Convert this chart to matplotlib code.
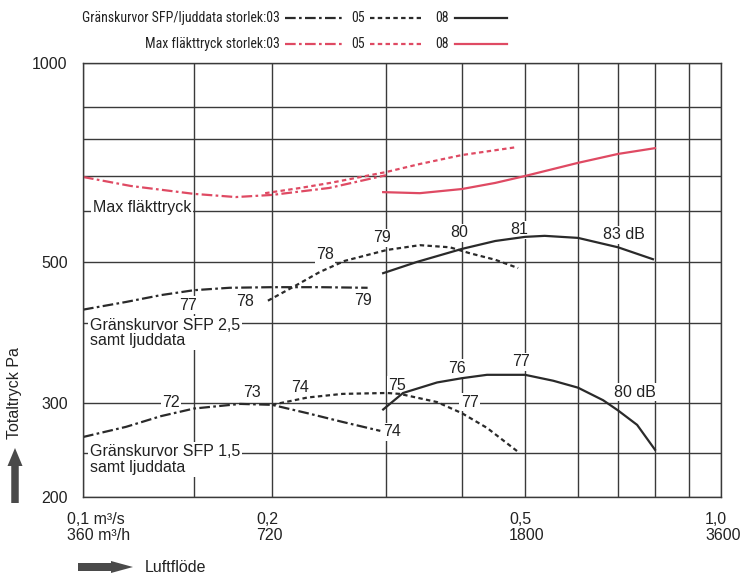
import numpy as np
import matplotlib
matplotlib.use('Agg')
import matplotlib.pyplot as plt
from matplotlib import font_manager
from matplotlib.font_manager import FontProperties
from matplotlib.lines import Line2D
from matplotlib.patches import FancyArrow
from matplotlib.ticker import FixedLocator, NullFormatter
import matplotlib.transforms as mtransforms

plt.rcParams['font.family'] = ['Liberation Sans', 'DejaVu Sans']

# legend in the original uses a narrow face; take one if the system has it
narrow = [f for f in font_manager.fontManager.ttflist
          if f.name in ('Liberation Sans Narrow', 'Roboto Condensed', 'Open Sans Condensed')
          and f.style == 'normal' and f.weight in (400, 'normal', 'regular')]
if narrow:
    leg_prop = FontProperties(fname=narrow[0].fname, size=10)
else:
    leg_prop = FontProperties(family='Liberation Sans', size=9)

# axis geometry as drawn in the original (value -> pixel offset)
x_grid = [0.1, 0.15, 0.2, 0.3, 0.4, 0.5, 0.6, 0.7, 0.8, 0.9, 1.0]
x_grid_px = [0, 111, 189, 303, 379, 442, 495, 535, 572, 606, 638]
y_grid = [200, 250, 300, 400, 500, 600, 700, 800, 900, 1000]
y_grid_px = [0, 44, 94, 174, 235, 286, 321, 358, 390, 434]

# Max fläkttryck (Pa) vs luftflöde (m3/s)
max03_x = [0.1, 0.119, 0.15, 0.175, 0.2, 0.245, 0.3]
max03_y = [697, 670, 647, 638, 644, 664, 702]
max05_x = [0.195, 0.221, 0.246, 0.3, 0.341, 0.4, 0.486]
max05_y = [649, 664, 679, 710, 731, 755, 777]
max08_x = [0.297, 0.341, 0.4, 0.45, 0.5, 0.6, 0.7, 0.8]
max08_y = [652, 649, 661, 679, 700, 734, 758, 774]

# Gränskurvor SFP 2,5
sfp25_03_x = [0.1, 0.117, 0.133, 0.15, 0.171, 0.2, 0.237, 0.281]
sfp25_03_y = [420, 432, 443, 451, 455, 456, 456, 455]
sfp25_05_x = [0.197, 0.217, 0.237, 0.259, 0.301, 0.341, 0.382, 0.411, 0.45, 0.488]
sfp25_05_y = [434, 458, 482, 502, 522, 531, 527, 516, 504, 489]
sfp25_08_x = [0.297, 0.337, 0.4, 0.45, 0.5, 0.535, 0.6, 0.7, 0.794]
sfp25_08_y = [480, 500, 524, 539, 547, 549, 545, 527, 505]

# Gränskurvor SFP 1,5
sfp15_03_x = [0.1, 0.117, 0.133, 0.15, 0.178, 0.2, 0.227, 0.257, 0.294]
sfp15_03_y = [265, 275, 286, 294, 299, 298, 289, 280, 271]
sfp15_05_x = [0.2, 0.227, 0.257, 0.301, 0.316, 0.364, 0.4, 0.437, 0.488]
sfp15_05_y = [298, 306, 310, 311, 310, 301, 289, 274, 251]
sfp15_08_x = [0.297, 0.32, 0.364, 0.4, 0.437, 0.5, 0.551, 0.6, 0.661, 0.7, 0.75, 0.8]
sfp15_08_y = [293, 311, 323, 328, 332, 332, 325, 317, 303, 292, 277, 253]

# ljuddata (dB) labels: text, flow, pressure
db_labels = [
    ('77', 0.147, 427), ('78', 0.181, 432), ('79', 0.276, 434),
    ('78', 0.2415, 513), ('79', 0.296, 545), ('80', 0.3955, 555),
    ('81', 0.489, 561), ('83 dB', 0.715, 551),
    ('72', 0.138, 301), ('73', 0.186, 311), ('74', 0.221, 317),
    ('75', 0.313, 320), ('74', 0.307, 270), ('76', 0.3926, 340),
    ('77', 0.411, 301), ('77', 0.493, 348), ('80 dB', 0.744, 312),
]

x_ticks = [0.1, 0.2, 0.5, 1.0]
x_ticklabels = ['0,1 m³/s\n360 m³/h', '0,2\n720', '0,5\n1800', '1,0\n3600']
y_ticks = [200, 300, 500, 1000]


def fx(v):
    return np.interp(np.log10(np.clip(v, 1e-6, None)), np.log10(x_grid), x_grid_px)


def fx_inv(p):
    return 10 ** np.interp(p, x_grid_px, np.log10(x_grid))


def fy(v):
    return np.interp(np.log10(np.clip(v, 1e-6, None)), np.log10(y_grid), y_grid_px)


def fy_inv(p):
    return 10 ** np.interp(p, y_grid_px, np.log10(y_grid))


fig = plt.figure(figsize=(7.41, 5.74), dpi=100)
ax = fig.add_axes([83 / 741, 77 / 574, 638 / 741, 434 / 574])
ax.set_xscale('function', functions=(fx, fx_inv))
ax.set_yscale('function', functions=(fy, fy_inv))
ax.set_xlim(0.1, 1.0)
ax.set_ylim(200, 1000)

grid_c = '#3a3a3a'
ax.xaxis.set_major_locator(FixedLocator(x_ticks))
ax.xaxis.set_minor_locator(FixedLocator([v for v in x_grid if v not in x_ticks]))
ax.yaxis.set_major_locator(FixedLocator(y_ticks))
ax.yaxis.set_minor_locator(FixedLocator([v for v in y_grid if v not in y_ticks]))
ax.xaxis.set_minor_formatter(NullFormatter())
ax.yaxis.set_minor_formatter(NullFormatter())
ax.set_xticklabels(x_ticklabels)
ax.set_yticklabels([str(v) for v in y_ticks])
ax.grid(True, which='both', color=grid_c, lw=1.0)
ax.tick_params(which='both', length=0, labelsize=11.5, colors='#222222')
ax.tick_params(axis='x', pad=11)
ax.tick_params(axis='y', pad=11)
for sp in ax.spines.values():
    sp.set_color(grid_c)
    sp.set_linewidth(1.0)

shift = mtransforms.ScaledTranslation(-16 / 100, 0, fig.dpi_scale_trans)
for lab in ax.get_xticklabels():
    lab.set_horizontalalignment('left')
    lab.set_linespacing(1.05)
    lab.set_transform(lab.get_transform() + shift)

black = '#2a2a2a'
red = '#df4a63'
dashdot = (4.8, 1.5, 1.2, 1.5)
dotted = (2.0, 1.5)
lw = 1.6

ax.plot(max03_x, max03_y, color=red, lw=lw, dashes=dashdot)
ax.plot(max05_x, max05_y, color=red, lw=lw, dashes=dotted)
ax.plot(max08_x, max08_y, color=red, lw=lw)
ax.plot(sfp25_03_x, sfp25_03_y, color=black, lw=lw, dashes=dashdot)
ax.plot(sfp25_05_x, sfp25_05_y, color=black, lw=lw, dashes=dotted)
ax.plot(sfp25_08_x, sfp25_08_y, color=black, lw=lw)
ax.plot(sfp15_03_x, sfp15_03_y, color=black, lw=lw, dashes=dashdot)
ax.plot(sfp15_05_x, sfp15_05_y, color=black, lw=lw, dashes=dotted)
ax.plot(sfp15_08_x, sfp15_08_y, color=black, lw=lw)

box = dict(facecolor='white', edgecolor='none', pad=1.0)
for txt, xv, yv in db_labels:
    ax.text(xv, yv, txt, ha='center', va='center', fontsize=11.5, color='#222222',
            bbox=box, zorder=1.8)

ax.text(0.1037, 608, 'Max fläkttryck', ha='left', va='center', fontsize=11.5,
        color='#222222', bbox=dict(facecolor='white', edgecolor='none', pad=1.5), zorder=1.8)
ax.text(0.1026, 386, 'Gränskurvor SFP 2,5\nsamt ljuddata', ha='left', va='center',
        fontsize=11.5, color='#222222', linespacing=1.05,
        bbox=dict(facecolor='white', edgecolor='none', pad=1.5), zorder=1.8)
ax.text(0.1026, 242, 'Gränskurvor SFP 1,5\nsamt ljuddata', ha='left', va='center',
        fontsize=11.5, color='#222222', linespacing=1.05,
        bbox=dict(facecolor='white', edgecolor='none', pad=1.5), zorder=1.8)

# legend at top
for row_y, label, col in [(18, 'Gränskurvor SFP/ljuddata storlek:03', black),
                          (44, 'Max fläkttryck storlek:03', red)]:
    yf = 1 - row_y / 574
    fig.text(280 / 741, yf, label, ha='right', va='center', fontproperties=leg_prop,
             color='#222222')
    fig.text(358 / 741, yf, '05', ha='center', va='center', fontproperties=leg_prop,
             color='#222222')
    fig.text(442 / 741, yf, '08', ha='center', va='center', fontproperties=leg_prop,
             color='#222222')
    fig.add_artist(Line2D([285 / 741, 342 / 741], [yf, yf], transform=fig.transFigure,
                          color=col, lw=lw, dashes=dashdot))
    fig.add_artist(Line2D([370 / 741, 421 / 741], [yf, yf], transform=fig.transFigure,
                          color=col, lw=lw, dashes=dotted))
    fig.add_artist(Line2D([455 / 741, 507 / 741], [yf, yf], transform=fig.transFigure,
                          color=col, lw=lw))

# axis titles with block arrows
arrow_c = '#4a4a4a'
fig.add_artist(FancyArrow(0.15, 0.71, 0, 0.55, width=0.075, head_width=0.15, head_length=0.18,
                          length_includes_head=True, transform=fig.dpi_scale_trans,
                          color=arrow_c, lw=0))
fig.add_artist(FancyArrow(0.78, 0.07, 0.55, 0, width=0.08, head_width=0.12, head_length=0.22,
                          length_includes_head=True, transform=fig.dpi_scale_trans,
                          color=arrow_c, lw=0))
fig.text(15 / 741, 1 - 393 / 574, 'Totaltryck Pa', rotation=90, ha='center', va='center',
         fontsize=11.5, color='#222222')
fig.text(145 / 741, 1 - 567 / 574, 'Luftflöde', ha='left', va='center',
         fontsize=11.5, color='#222222')

fig.savefig('out.png', dpi=100)
